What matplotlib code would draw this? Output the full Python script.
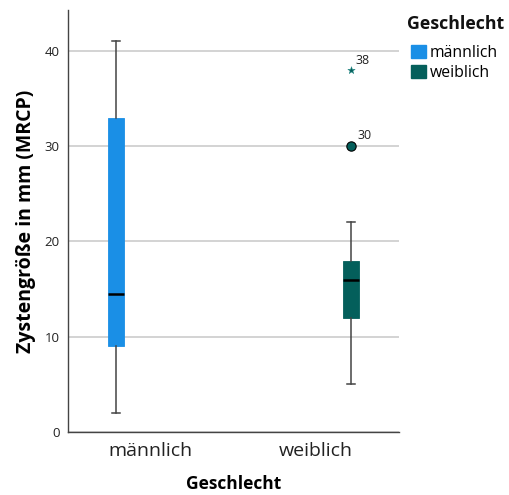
import matplotlib
matplotlib.use("Agg")
import matplotlib.pyplot as plt
from matplotlib.patches import Patch

plt.rcParams["font.family"] = ["Open Sans", "DejaVu Sans"]

# Box statistics for cyst size by sex
categories = ["männlich", "weiblich"]
whislo = [2, 5]
q1 = [9, 12]
med = [14.5, 16]
q3 = [33, 18]
whishi = [41, 22]

# Female outliers: mild (circle) and extreme (star) with case numbers
mild_vals = [30]
mild_ids = ["30"]
extreme_vals = [38]
extreme_ids = ["38"]

colors = ["#1a8fe6", "#045f5b"]
yticks = [0, 10, 20, 30, 40]

fig = plt.figure(figsize=(5.1, 4.95), dpi=100)
ax = fig.add_axes([0.1333, 0.1273, 0.649, 0.8525])

centers = [0.5, 1.5]
offset = 0.21
positions = [centers[0] - offset, centers[1] + offset]

stats = []
for i in range(len(categories)):
    stats.append(dict(whislo=whislo[i], q1=q1[i], med=med[i], q3=q3[i],
                      whishi=whishi[i], fliers=[]))

bp = ax.bxp(stats, positions=positions, widths=0.1, patch_artist=True,
            showfliers=False, capwidths=0.045,
            medianprops=dict(color="black", linewidth=1.8),
            whiskerprops=dict(color="#444444", linewidth=1.1),
            capprops=dict(color="#444444", linewidth=1.1),
            boxprops=dict(linewidth=0.6), manage_ticks=False, zorder=3)
for patch, c in zip(bp["boxes"], colors):
    patch.set_facecolor(c)
    patch.set_edgecolor(c)

# outliers in the female group
fx = positions[1]
ax.scatter([fx] * len(mild_vals), mild_vals, s=45, marker="o",
           facecolor=colors[1], edgecolor="black", linewidth=0.8, zorder=4)
ax.scatter([fx] * len(extreme_vals), extreme_vals, s=30, marker="*",
           facecolor=colors[1], edgecolor="#2a8c88", linewidth=0.4, zorder=4)
for v, lab in zip(mild_vals, mild_ids):
    ax.annotate(lab, (fx, v), xytext=(5, 5), textcoords="offset points",
                fontsize=9, color="#222222")
for v, lab in zip(extreme_vals, extreme_ids):
    ax.annotate(lab, (fx, v), xytext=(3, 4), textcoords="offset points",
                fontsize=9, color="#222222")

ax.set_xlim(0, 2)
ax.set_ylim(0, 44.3)
ax.set_xticks(centers)
ax.set_xticklabels(categories, fontsize=14, color="#222222")
ax.set_yticks(yticks)
ax.set_yticklabels([str(t) for t in yticks], fontsize=9.5, color="#222222")
ax.tick_params(axis="both", length=0, pad=6)
ax.tick_params(axis="x", pad=7)

ax.yaxis.grid(True, color="#cccccc", linewidth=1.2)
ax.set_axisbelow(True)
for s in ["top", "right"]:
    ax.spines[s].set_visible(False)
for s in ["left", "bottom"]:
    ax.spines[s].set_color("#444444")
    ax.spines[s].set_linewidth(1.0)

ax.set_xlabel("Geschlecht", fontsize=12.5, fontweight="bold", labelpad=11)
ax.set_ylabel("Zystengröße in mm (MRCP)", fontsize=14, fontweight="bold",
              labelpad=6)

fig.text(0.798, 0.9515, "Geschlecht", fontsize=12.8, fontweight="bold",
         ha="left", va="center", color="#111111")
handles = [Patch(facecolor=c, edgecolor=c) for c in colors]
leg = fig.legend(handles, categories,
                 loc="upper left", bbox_to_anchor=(0.806, 0.91),
                 frameon=False, fontsize=11.3,
                 handlelength=0.95, handleheight=0.95, handletextpad=0.25,
                 labelspacing=0.25, borderaxespad=0, borderpad=0)

fig.savefig("out.png", dpi=100)
